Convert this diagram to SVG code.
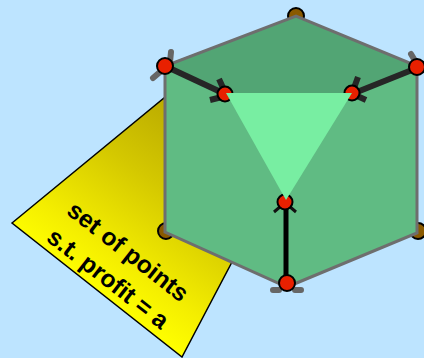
<svg xmlns="http://www.w3.org/2000/svg" width="424" height="358" viewBox="0 0 424 358">
<style>
.lbl{font:bold 24.5px "Liberation Sans",Arial,sans-serif;fill:#000;text-anchor:middle}
.edge{stroke:#6e6e6e;stroke-width:3;fill:none}
.blk{stroke:#262626;stroke-width:6;fill:none}
.gry{stroke:#666;stroke-width:6;fill:none;stroke-linecap:round}
.red{fill:#e82000;stroke:#000;stroke-width:2}
.brn{fill:#8a5a00;stroke:#000;stroke-width:2}
</style>
<defs>
<linearGradient id="yg" gradientUnits="userSpaceOnUse" x1="172" y1="92" x2="50" y2="262">
<stop offset="0" stop-color="#b8a800"/><stop offset="0.4" stop-color="#d4c800"/><stop offset="0.8" stop-color="#f4ee00"/><stop offset="1" stop-color="#ffff00"/>
</linearGradient>
</defs>
<rect width="424" height="358" fill="#bde4ff"/>
<g id="plane"><polygon points="12,223 164,98 232,262 182,357" fill="url(#yg)" stroke="#000" stroke-width="1.5"/></g>
<g id="back-vertices">
<circle class="brn" cx="296" cy="16" r="8"/>
<circle class="brn" cx="166" cy="231" r="8"/>
<circle class="brn" cx="418" cy="231" r="8"/>
</g>
<g id="faces">
<polygon points="296,16 165,65 165,232 287,287 417,233 417,66" fill="#60bb83"/>
<polygon points="296,16 165,65 226,93 352,93 417,66" fill="#52a574"/>
</g>
<g id="connectors">
<path class="edge" d="M165,66V232L287,287L417,233V66L296,16Z"/>
<path class="blk" d="M165,66L225,94"/>
<path class="blk" d="M417,68L352,94"/>
<path stroke="#000" stroke-width="5" fill="none" d="M286,203V285"/>
<path class="gry" d="M171,52L170,62M160,72L153,78"/>
<path class="gry" d="M411,54L417,64"/>
<path class="gry" stroke-width="7" d="M273,290H279M295,290H301"/>
<path class="blk" d="M210,100L222,97M219,79L224,90M366,100L355,95M358,77L354,88"/>
<path stroke="#111" stroke-width="3" fill="none" d="M274,212L281,206M296,212L289,206"/>
</g>
<g id="top-vertices">
<circle class="red" cx="165" cy="66" r="8"/>
<circle class="red" cx="417" cy="67" r="8"/>
<circle class="red" cx="225" cy="94" r="7.5"/>
<circle class="red" cx="352" cy="93" r="7.5"/>
<circle class="red" cx="285" cy="202" r="7.5"/>
<circle class="red" cx="287" cy="283" r="8"/>
</g>
<polygon id="section" points="226,93 352,93 286,200" fill="#78eea2"/>
<g id="label">
<text class="lbl" transform="translate(123,258) rotate(38)">set of points</text>
<text class="lbl" transform="translate(103,285) rotate(38)">s.t. profit = a</text>
</g>
</svg>
